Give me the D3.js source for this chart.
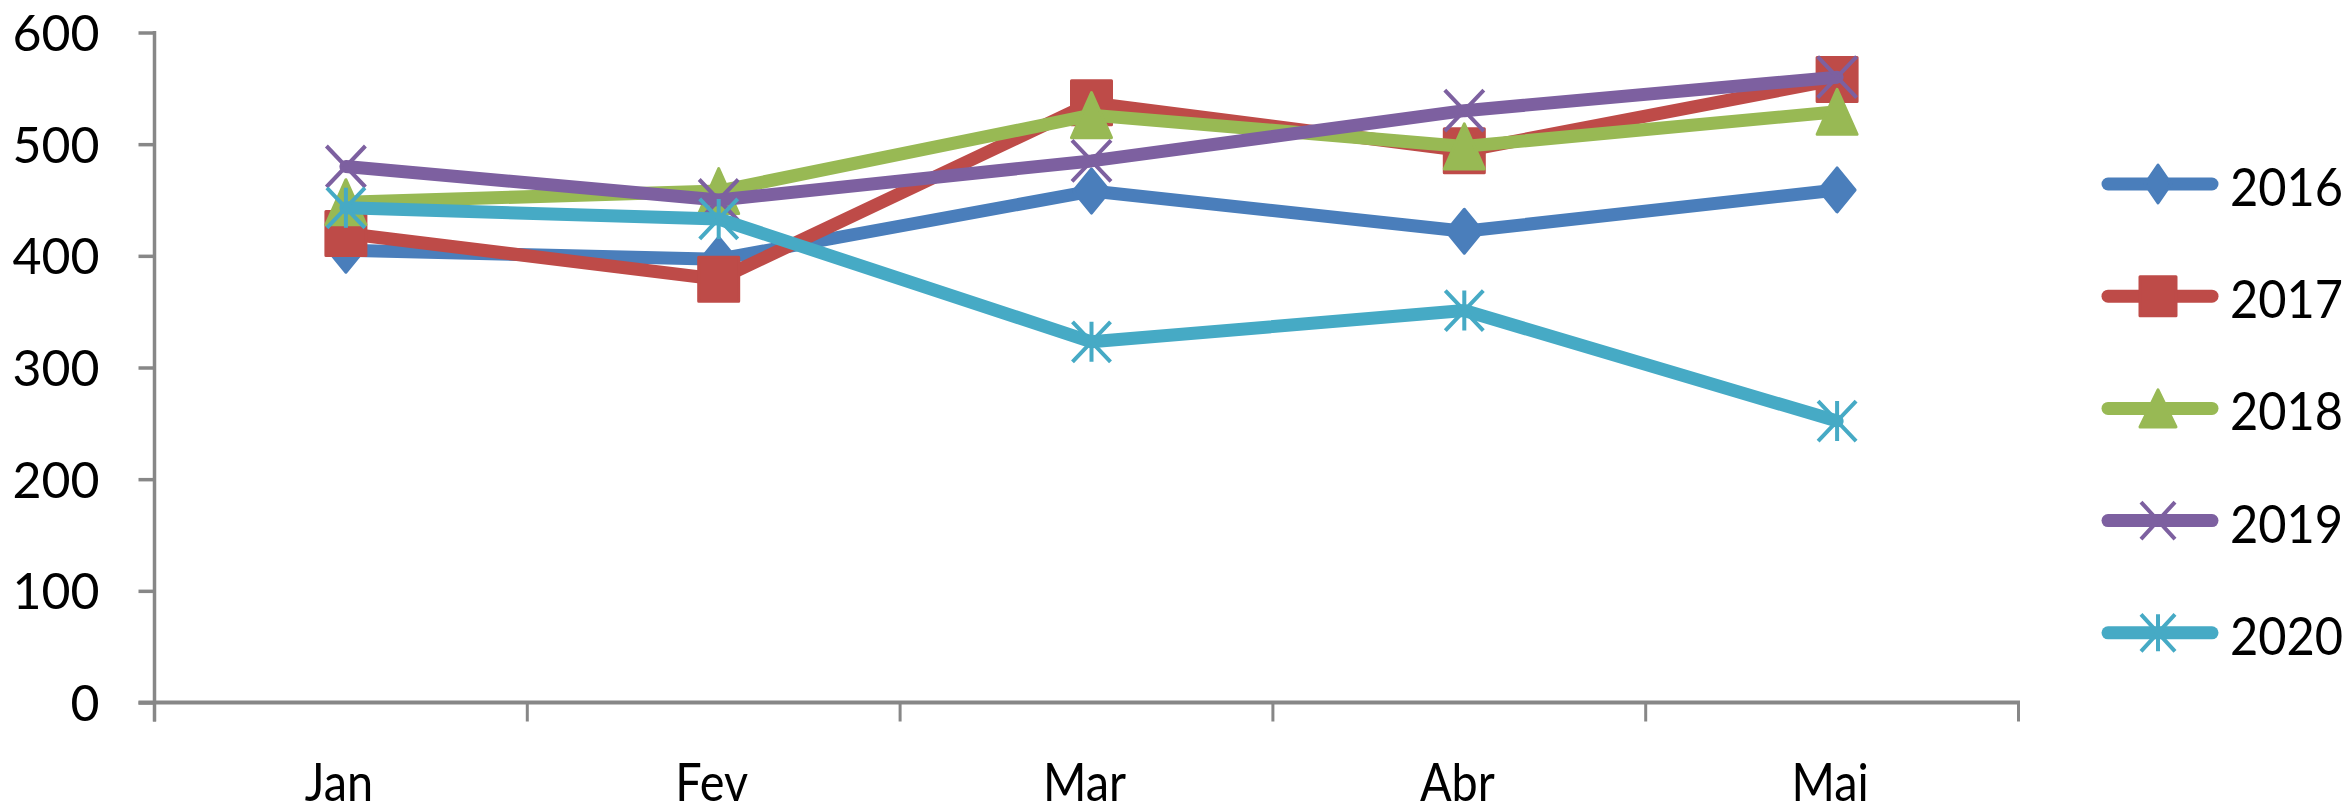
<!DOCTYPE html>
<html>
<head>
<meta charset="utf-8">
<script src="https://cdn.jsdelivr.net/npm/d3@7"></script>
<style>
  html, body { margin: 0; padding: 0; background: #fff; }
  svg { display: block; }
</style>
</head>
<body>
<svg id="chart" width="2351" height="811"></svg>
<script>
// ---- data ----
const categories = ["Jan", "Fev", "Mar", "Abr", "Mai"];
const seriesNames = ["2016", "2017", "2018", "2019", "2020"];
const values2016 = [405, 397, 458, 422, 459];
const values2017 = [420, 379, 537, 494, 558];
const values2018 = [448, 458, 526, 498, 529];
const values2019 = [480, 450, 485, 530, 560];
const values2020 = [443, 433, 323, 351, 252];
const yTicks = [0, 100, 200, 300, 400, 500, 600];

const seriesValues = [values2016, values2017, values2018, values2019, values2020];
const colors = ["#4A7EBB", "#BE4B48", "#98B954", "#7D60A0", "#46AAC5"];
const markerTypes = ["diamond", "square", "triangle", "x", "asterisk"];

// ---- layout ----
const svg = d3.select("#chart");
const x = d3.scaleBand().domain(categories).range([154.5, 2018.5]);
const y = d3.scaleLinear().domain([0, 600]).range([702.5, 32.5]);
const xp = c => x(c) + x.bandwidth() / 2 + 5;
const axisColor = "#878787";
const font = "Lato, 'Open Sans', sans-serif";

// ---- axes ----
const yAxis = d3.axisLeft(y).tickValues(yTicks).tickSize(16).tickPadding(39);
const gy = svg.append("g").attr("transform", "translate(154.5,0)").call(yAxis);
gy.select(".domain").remove();
gy.selectAll(".tick line").attr("stroke", axisColor).attr("stroke-width", 3.5);
gy.selectAll(".tick text")
  .attr("x", null).attr("dy", null)
  .attr("transform", "translate(-55,18) scale(1,1)")
  .attr("font-family", font).attr("font-size", 50).attr("fill", "#000")
  .attr("text-anchor", "end");
svg.append("line")
  .attr("x1", 154.5).attr("x2", 154.5)
  .attr("y1", y(600) - 1.5).attr("y2", y(0) + 19)
  .attr("stroke", axisColor).attr("stroke-width", 3.5);

// x axis (labels at band centres, ticks at band boundaries)
const xAxis = d3.axisBottom(x).tickSize(0).tickPadding(0);
const gx = svg.append("g").attr("transform", `translate(0,${y(0)})`).call(xAxis);
gx.select(".domain").remove();
gx.selectAll(".tick text")
  .attr("y", null).attr("dy", null)
  .attr("transform", "translate(-2,98.5) scale(0.9,1)")
  .attr("font-family", font).attr("font-size", 52).attr("fill", "#000")
  .attr("text-anchor", "middle");
svg.append("line")
  .attr("x1", 138.5).attr("x2", x.range()[1] + 1.5)
  .attr("y1", y(0)).attr("y2", y(0))
  .attr("stroke", axisColor).attr("stroke-width", 4);
const boundaries = categories.map(c => x(c)).concat([x(categories[categories.length - 1]) + x.bandwidth()]);
svg.append("g").selectAll("line").data(boundaries).join("line")
  .attr("x1", d => d).attr("x2", d => d)
  .attr("y1", y(0)).attr("y2", y(0) + 19)
  .attr("stroke", axisColor).attr("stroke-width", 3);

// ---- markers ----
function markerPath(type, a, b) {
  switch (type) {
    case "diamond": return `M0,${-b}L${a},0L0,${b}L${-a},0Z`;
    case "square": return `M${-a},${-b}H${a}V${b}H${-a}Z`;
    case "triangle": return `M0,${-b}L${a},${b}L${-a},${b}Z`;
    case "x": return `M${-a},${-b}L${a},${b}M${a},${-b}L${-a},${b}`;
    case "asterisk": return `M${-a},${-b}L${a},${b}M${a},${-b}L${-a},${b}M0,${-b}L0,${b}`;
  }
}
const plotSize = {
  diamond: [18, 22], square: [20, 22], triangle: [20, 22.5], x: [19.5, 20.5], asterisk: [19, 20]
};
const legendSize = {
  diamond: [13, 19], square: [18, 19.5], triangle: [18, 18.5], x: [17, 18.5], asterisk: [17, 18.5]
};
function drawMarker(sel, type, color, size) {
  const [a, b] = size[type];
  const filled = type === "diamond" || type === "square" || type === "triangle";
  sel.append("path")
    .attr("d", markerPath(type, a, b))
    .attr("fill", filled ? color : "none")
    .attr("stroke", color)
    .attr("stroke-width", filled ? 3 : 4)
    .attr("stroke-linejoin", "round");
}

// ---- series ----
const line = d3.line().x(d => xp(d.c)).y(d => y(d.v));
seriesNames.forEach((name, i) => {
  const data = categories.map((c, j) => ({ c, v: seriesValues[i][j] }));
  const g = svg.append("g");
  g.append("path").datum(data)
    .attr("d", line)
    .attr("fill", "none")
    .attr("stroke", colors[i])
    .attr("stroke-width", 13)
    .attr("stroke-linecap", "round")
    .attr("stroke-linejoin", "round");
  data.forEach(d => {
    const m = g.append("g").attr("transform", `translate(${xp(d.c)},${y(d.v)})`);
    drawMarker(m, markerTypes[i], colors[i], plotSize);
  });
});

// ---- legend ----
const legend = svg.append("g");
seriesNames.forEach((name, i) => {
  const ly = 184 + i * 112.2;
  const g = legend.append("g").attr("transform", `translate(0,${ly})`);
  g.append("line")
    .attr("x1", 2108).attr("x2", 2212)
    .attr("y1", 0).attr("y2", 0)
    .attr("stroke", colors[i]).attr("stroke-width", 13)
    .attr("stroke-linecap", "round");
  const m = g.append("g").attr("transform", "translate(2158,0)");
  drawMarker(m, markerTypes[i], colors[i], legendSize);
  g.append("text")
    .attr("transform", "translate(2230,22) scale(0.92,1)")
    .attr("font-family", font).attr("font-size", 53).attr("fill", "#000")
    .text(name);
});
</script>
</body>
</html>
